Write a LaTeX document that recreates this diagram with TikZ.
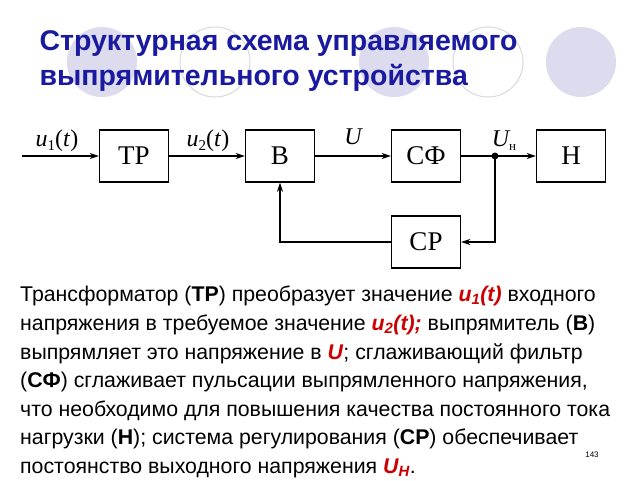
\documentclass[tikz,border=0pt]{standalone}
\usepackage{fontspec}
\setmainfont{Liberation Sans}
\newfontfamily\schemefont{Liberation Serif}
\usetikzlibrary{positioning,arrows.meta}
\definecolor{titleblue}{HTML}{1A1AA0}
\definecolor{circlefill}{HTML}{DCDCEE}
\definecolor{termred}{HTML}{CC0000}
\tikzset{
  block/.style={rectangle, draw=black, line width=1.4pt, minimum width=69pt, minimum height=52pt, font=\schemefont\fontsize{27}{27}\selectfont},
  arrow/.style={line width=1.4pt, -{Stealth[length=9pt,width=6pt]}},
  line/.style={line width=1.4pt},
  sig/.style={font=\schemefont\itshape\fontsize{24}{24}\selectfont, anchor=base},
  deco/.style={circle, minimum size=70pt, inner sep=0pt},
}
\newcommand{\term}[1]{\textcolor{termred}{\textbf{\textit{#1}}}}
\newcommand{\sub}[1]{\raisebox{-4pt}{\fontsize{15}{15}\selectfont\upshape #1}}
\begin{document}
\begin{tikzpicture}[x=1pt,y=-1pt]
\useasboundingbox[fill=white] (0,0) rectangle (640,480);

% background circles
\node[deco, fill=circlefill] at (102,62) {};
\node[deco, draw=black!15, line width=1pt] at (215,62) {};
\node[deco, fill=circlefill] at (394,62) {};
\node[deco, draw=black!15, line width=1pt] at (488,62) {};
\node[deco, fill=circlefill] at (581,62) {};

% title
\node (title) [anchor=north west, align=left, text=titleblue, font=\fontsize{28.5}{35}\selectfont\bfseries] at (36,27)
  {Структурная схема управляемого\\выпрямительного устройства};

% blocks
\node (tr) [block] at (134,156) {ТР};
\node (b) [block] at (280,156) {В};
\node (sf) [block] at (426,156) {СФ};
\node (h) [block] at (571,156) {Н};
\node (sr) [block] at (426,242) {СР};
\coordinate (in) at (22,156);
\coordinate (dot) at (495,156);

% forward path
\draw [arrow] (in) -- (tr);
\draw [arrow] (tr) -- (b);
\draw [arrow] (b) -- (sf);
\draw [line] (sf) -- (dot);
\draw [arrow] (dot) -- (h);
\fill (dot) circle (3.5pt);

% feedback
\draw [arrow] (dot) |- (sr);
\draw [arrow] (sr) -| (b);

% signal labels
\node[sig] at (57,146) {u\sub{1}\textup{(}t\textup{)}};
\node[sig] at (208,146) {u\sub{2}\textup{(}t\textup{)}};
\node[sig] at (353,144) {U};
\node[sig] at (504,146) {U\sub{\fontsize{13}{13}\selectfont н}};

% description
\node (text) [anchor=north west, align=left, font=\fontsize{21.3}{28.6}\selectfont, inner sep=0pt] at (20,286)
  {Трансформатор (\textbf{ТР}) преобразует значение \term{u\textsubscript{1}(t)} входного\\
   напряжения в требуемое значение \term{u\textsubscript{2}(t);} выпрямитель (\textbf{В})\\
   выпрямляет это напряжение в \term{U}; сглаживающий фильтр\\
   (\textbf{СФ}) сглаживает пульсации выпрямленного напряжения,\\
   что необходимо для повышения качества постоянного тока\\
   нагрузки (\textbf{Н}); система регулирования (\textbf{СР}) обеспечивает\\
   постоянство выходного напряжения \term{U\textsubscript{Н}}.};
\node (page) [font=\fontsize{8}{8}\selectfont] at (592,455) {143};
\end{tikzpicture}
\end{document}
